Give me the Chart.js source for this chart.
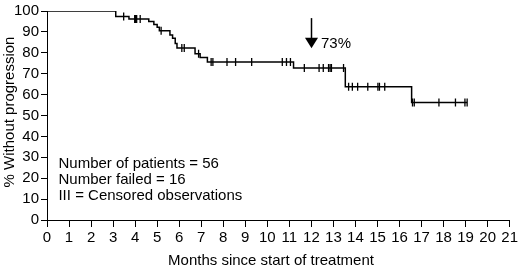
<!DOCTYPE html>
<html>
<head>
<meta charset="utf-8">
<script src="https://cdn.jsdelivr.net/npm/chart.js@4.4.1/dist/chart.umd.min.js"></script>
<style>
  html, body { margin: 0; padding: 0; background: #fff; }
  #wrap { width: 520px; height: 267px; position: relative; }
</style>
</head>
<body>
<div id="wrap"><canvas id="c"></canvas></div>
<script>
// Kaplan-Meier step curve: month of each step and % without progression after it
const eventMonths = [0, 3.12, 3.72, 4.62, 4.85, 5.0, 5.1, 5.58, 5.7, 5.82, 5.9, 6.72, 6.95, 7.28, 11.19, 13.54, 16.55, 19.07];
const survivalPct = [100, 97.4, 96.2, 95.0, 93.6, 92.2, 90.6, 88.5, 87.0, 84.4, 82.3, 79.5, 77.8, 75.6, 72.7, 63.7, 56.2, 56.2];

// Censored observations
const censorMonths = [3.48, 3.98, 4.02, 4.07, 4.23, 5.18, 6.12, 6.23, 6.88, 7.45, 7.53, 8.17, 8.56, 9.29, 10.68, 10.87, 11.05,
  11.68, 12.35, 12.54, 12.78, 12.85, 12.91, 13.46, 13.69, 13.86, 14.1, 14.56, 15.02, 15.09, 15.33,
  16.59, 16.67, 17.79, 18.54, 18.97, 19.07];
const censorPct = [97.4, 96.2, 96.2, 96.2, 96.2, 90.6, 82.3, 82.3, 79.5, 75.6, 75.6, 75.6, 75.6, 75.6, 75.6, 75.6, 75.6,
  72.7, 72.7, 72.7, 72.7, 72.7, 72.7, 72.7, 63.7, 63.7, 63.7, 63.7, 63.7, 63.7, 63.7,
  56.2, 56.2, 56.2, 56.2, 56.2, 56.2];

const xTickLabels = Array.from({length: 22}, (_, i) => String(i));
const yTickLabels = ['0','10','20','30','40','50','60','70','80','90','100'];

const xTitle = 'Months since start of treatment';
const yTitle = '% Without progression';
const infoLines = ['Number of patients = 56', 'Number failed = 16', 'III = Censored observations'];
const arrowLabel = '73%';
const arrowMonth = 12.0;

const FONT = '"Liberation Sans", Arial, sans-serif';

const curve = eventMonths.map((m, i) => ({x: m, y: survivalPct[i]}));
const censored = censorMonths.map((m, i) => ({x: m, y: censorPct[i]}));

const annotations = {
  id: 'annotations',
  afterDraw(chart) {
    const ctx = chart.ctx;
    const xs = chart.scales.x, ys = chart.scales.y;
    ctx.save();
    ctx.fillStyle = '#000';
    ctx.strokeStyle = '#000';
    // arrow
    const ax = Math.round(xs.getPixelForValue(arrowMonth)) + 0.5;
    const yTop = ys.getPixelForValue(96.6);
    const yBase = ys.getPixelForValue(87.2);
    const yTip = ys.getPixelForValue(82.2);
    ctx.lineWidth = 1.5;
    ctx.beginPath();
    ctx.moveTo(ax, yTop);
    ctx.lineTo(ax, yBase + 1);
    ctx.stroke();
    ctx.beginPath();
    ctx.moveTo(ax - 6.5, yBase);
    ctx.lineTo(ax + 6.5, yBase);
    ctx.lineTo(ax, yTip);
    ctx.closePath();
    ctx.fill();
    ctx.font = '15px ' + FONT;
    ctx.textBaseline = 'middle';
    ctx.textAlign = 'left';
    ctx.fillText(arrowLabel, ax + 9.5, ys.getPixelForValue(84.3));
    // info text block
    const infoY = [26.9, 19.1, 11.6];
    const ix = xs.getPixelForValue(0.52);
    infoLines.forEach((t, i) => ctx.fillText(t, ix, ys.getPixelForValue(infoY[i])));
    // axis titles
    ctx.textAlign = 'center';
    ctx.fillText(xTitle, 271, 261);
    ctx.translate(10, 112);
    ctx.rotate(-Math.PI / 2);
    ctx.fillText(yTitle, 0, 0);
    ctx.restore();
  }
};

new Chart(document.getElementById('c'), {
  type: 'line',
  data: {
    datasets: [
      {
        data: curve,
        stepped: 'before',
        borderColor: '#000',
        borderWidth: 1.5,
        pointRadius: 0,
        fill: false,
        tension: 0
      },
      {
        type: 'scatter',
        data: censored,
        showLine: false,
        pointStyle: 'line',
        rotation: 90,
        pointRadius: 4,
        pointHoverRadius: 4,
        borderColor: '#000',
        backgroundColor: '#000',
        pointBorderWidth: 1.3
      }
    ]
  },
  options: {
    responsive: true,
    maintainAspectRatio: false,
    devicePixelRatio: 1,
    animation: false,
    events: [],
    layout: { autoPadding: false, padding: { top: 5, right: 7, left: 0, bottom: 0 } },
    plugins: { legend: { display: false }, tooltip: { enabled: false } },
    scales: {
      x: {
        type: 'linear',
        min: 0, max: 21,
        afterFit(s) { s.height = 47; },
        border: { display: true, color: '#000', width: 1 },
        grid: { display: true, drawOnChartArea: false, drawTicks: true, tickLength: 7, color: '#000', lineWidth: 1 },
        ticks: {
          stepSize: 1, autoSkip: false, maxRotation: 0, padding: 2,
          color: '#000', font: { family: FONT, size: 15 },
          callback: (v) => xTickLabels[v]
        }
      },
      y: {
        type: 'linear',
        min: 0, max: 100,
        afterFit(s) { s.width = 47; },
        border: { display: true, color: '#000', width: 1 },
        grid: { display: true, drawOnChartArea: false, drawTicks: true, tickLength: 6, color: '#000', lineWidth: 1 },
        ticks: {
          stepSize: 10, autoSkip: false, padding: 2,
          color: '#000', font: { family: FONT, size: 15 },
          callback: (v) => yTickLabels[v / 10]
        }
      }
    }
  },
  plugins: [annotations]
});
</script>
</body>
</html>
